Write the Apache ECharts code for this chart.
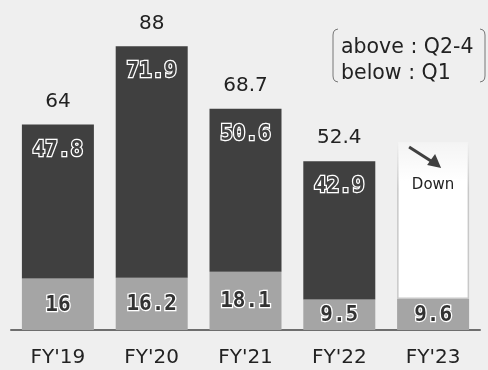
<!DOCTYPE html>
<html>
<head>
<meta charset="utf-8">
<script src="https://cdn.jsdelivr.net/npm/echarts@6/dist/echarts.min.js"></script>
<style>
  html, body { margin: 0; padding: 0; background: #efefef; }
  #chart { width: 488px; height: 370px; }
</style>
</head>
<body>
<div id="chart"></div>
<script>
const categories = ["FY'19", "FY'20", "FY'21", "FY'22", "FY'23"];
const q1Values = [16, 16.2, 18.1, 9.5, 9.6];
const q24Values = [47.8, 71.9, 50.6, 42.9, '-'];
const totalValues = [64, 88, 68.7, 52.4, '-'];
const downValues = ['-', '-', '-', '-', 49];

const chart = echarts.init(document.getElementById('chart'));

// outlined numbers inside the bars
const outlineLabel = function (fill) {
    return {
        show: true,
        fontFamily: 'DejaVu Sans Mono',
        fontWeight: 'bold',
        fontSize: 21,
        color: fill,
        textBorderColor: '#ffffff',
        textBorderWidth: 2.5
    };
};

const option = {
    backgroundColor: '#efefef',
    animation: false,
    grid: { left: 11, right: 8, top: 8, bottom: 40, containLabel: false },
    xAxis: {
        type: 'category',
        data: categories,
        axisTick: { show: false },
        axisLine: { lineStyle: { color: '#6e6e6e', width: 2 } },
        axisLabel: {
            color: '#222',
            fontFamily: 'DejaVu Sans',
            fontSize: 20,
            margin: 18
        }
    },
    yAxis: {
        type: 'value',
        min: 0,
        max: 100,
        show: false
    },
    series: [
        {
            name: 'Q1',
            type: 'bar',
            stack: 'total',
            barWidth: 72,
            data: q1Values,
            itemStyle: { color: '#a5a5a5' },
            label: Object.assign(outlineLabel('#333333'), { position: 'inside', offset: [0, 1] })
        },
        {
            name: 'Q2-4',
            type: 'bar',
            stack: 'total',
            data: q24Values,
            itemStyle: { color: '#404040' },
            label: Object.assign(outlineLabel('#404040'), { position: 'insideTop', distance: 15 })
        },
        {
            name: 'Down',
            type: 'bar',
            stack: 'total',
            data: downValues,
            itemStyle: {
                color: {
                    type: 'linear', x: 0, y: 0, x2: 0, y2: 1,
                    colorStops: [
                        { offset: 0, color: 'rgba(255,255,255,0.3)' },
                        { offset: 0.25, color: '#ffffff' },
                        { offset: 1, color: '#ffffff' }
                    ]
                },
                borderColor: {
                    type: 'linear', x: 0, y: 0, x2: 0, y2: 1,
                    colorStops: [
                        { offset: 0, color: 'rgba(200,200,200,0)' },
                        { offset: 0.3, color: '#c8c8c8' },
                        { offset: 1, color: '#c8c8c8' }
                    ]
                },
                borderWidth: 1.5
            }
        },
        {
            name: 'total',
            type: 'bar',
            stack: 'total',
            data: totalValues.map(function (v) { return v === '-' ? '-' : 0; }),
            label: {
                show: true,
                position: 'top',
                distance: 13,
                color: '#222',
                fontFamily: 'DejaVu Sans',
                fontSize: 20,
                formatter: function (p) { return totalValues[p.dataIndex]; }
            }
        }
    ]
};

chart.setOption(option);

// bracket legend, arrow and "Down" note
const cx = chart.convertToPixel({ xAxisIndex: 0 }, "FY'23");
chart.setOption({
    graphic: [
        {
            type: 'polyline',
            z: 100,
            shape: { points: [[338, 29], [335, 30], [333.5, 32], [333, 35], [333, 76], [333.5, 79], [335, 81], [338, 82]] },
            style: { fill: null, stroke: '#777', lineWidth: 1 }
        },
        {
            type: 'polyline',
            z: 100,
            shape: { points: [[480, 29], [483, 30], [484.5, 32], [485, 35], [485, 76], [484.5, 79], [483, 81], [480, 82]] },
            style: { fill: null, stroke: '#777', lineWidth: 1 }
        },
        {
            type: 'text',
            z: 100,
            x: 341,
            y: 35,
            style: {
                text: 'above : Q2-4\nbelow : Q1',
                fill: '#222',
                font: '20.5px "DejaVu Sans"',
                lineHeight: 26
            }
        },
        {
            type: 'line',
            z: 100,
            shape: { x1: cx - 24, y1: 147, x2: cx + 1, y2: 163 },
            style: { stroke: '#404040', lineWidth: 3 }
        },
        {
            type: 'polygon',
            z: 100,
            shape: { points: [[cx + 8, 168], [cx - 6, 165], [cx + 2, 154]] },
            style: { fill: '#404040' }
        },
        {
            type: 'text',
            z: 100,
            x: cx,
            y: 185,
            style: {
                text: 'Down',
                fill: '#222',
                font: '15px "DejaVu Sans"',
                align: 'center',
                verticalAlign: 'middle'
            }
        }
    ]
});
</script>
</body>
</html>
